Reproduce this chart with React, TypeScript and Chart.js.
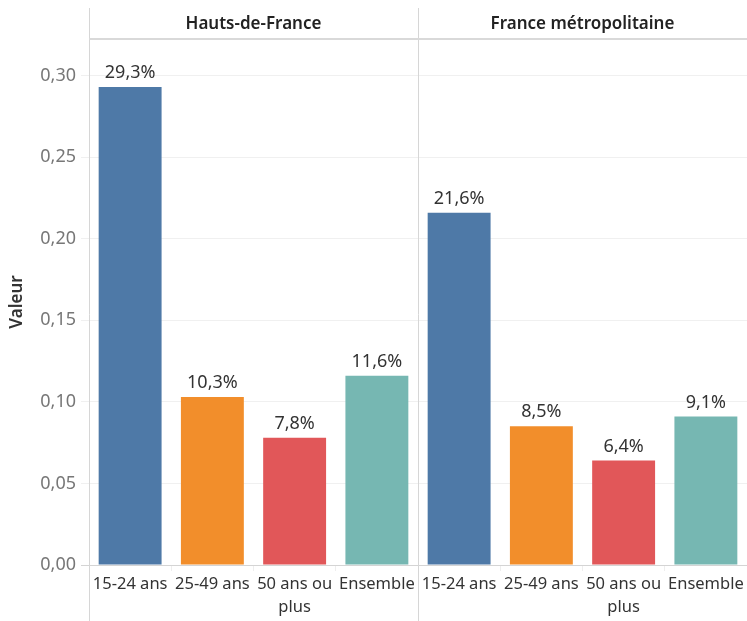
import React, { useEffect, useRef } from "react";
import { Chart, registerables } from "chart.js";

Chart.register(...registerables);

const panels = ["Hauts-de-France", "France métropolitaine"];
const groups: (string | string[])[] = ["15-24 ans", "25-49 ans", ["50 ans ou", "plus"], "Ensemble"];
const hautsDeFrance = [0.293, 0.103, 0.078, 0.116];
const franceMetro = [0.216, 0.085, 0.064, 0.091];
const groupColors = ["#4e79a7", "#f28e2b", "#e15759", "#76b7b2"];
const yTicks = [0, 0.05, 0.1, 0.15, 0.2, 0.25, 0.3];
const yMax = 0.3225;
const yTitle = "Valeur";

const FONT = "'Noto Sans', sans-serif";

export default function App() {
  const ref = useRef<HTMLCanvasElement | null>(null);

  useEffect(() => {
    document.body.style.margin = "0";
    const canvas = ref.current;
    if (!canvas) return;

    const labels = [...groups, ...groups];
    const values = [...hautsDeFrance, ...franceMetro];
    const colors = [...groupColors, ...groupColors];

    const decor = {
      id: "decor",
      beforeDatasetsDraw(chart: any) {
        const { ctx, chartArea, scales } = chart;
        const xs = scales.x;
        const sep = (xs.getPixelForValue(3) + xs.getPixelForValue(4)) / 2;
        ctx.save();
        ctx.strokeStyle = "#d6d6d6";
        ctx.lineWidth = 1;
        ctx.beginPath();
        ctx.moveTo(chartArea.left + 0.5, 8);
        ctx.lineTo(chartArea.left + 0.5, chart.height);
        ctx.moveTo(Math.round(sep) + 0.5, 8);
        ctx.lineTo(Math.round(sep) + 0.5, chart.height);
        ctx.stroke();
        ctx.strokeStyle = "#d9d9d9";
        ctx.lineWidth = 2;
        ctx.beginPath();
        ctx.moveTo(chartArea.left, chartArea.top);
        ctx.lineTo(chart.width, chartArea.top);
        ctx.stroke();

        // headers
        ctx.fillStyle = "#222";
        ctx.font = `600 17px ${FONT}`;
        ctx.textAlign = "center";
        ctx.textBaseline = "middle";
        ctx.fillText(panels[0], (chartArea.left + sep) / 2, 24);
        ctx.fillText(panels[1], (sep + chart.width) / 2, 24);

        // y title
        ctx.translate(17, (chartArea.top + chartArea.bottom) / 2);
        ctx.rotate(-Math.PI / 2);
        ctx.fillStyle = "#333";
        ctx.font = `600 17px ${FONT}`;
        ctx.fillText(yTitle, 0, 0);
        ctx.restore();
      },
      afterDatasetsDraw(chart: any) {
        const { ctx } = chart;
        const meta = chart.getDatasetMeta(0);
        ctx.save();
        ctx.fillStyle = "#333";
        ctx.font = `18px ${FONT}`;
        ctx.textAlign = "center";
        ctx.textBaseline = "bottom";
        meta.data.forEach((bar: any, i: number) => {
          const v = values[i];
          const txt = (v * 100).toFixed(1).replace(".", ",") + "%";
          ctx.fillText(txt, bar.x, bar.y - 5);
        });
        ctx.restore();
      },
    };

    const chart = new Chart(canvas, {
      type: "bar",
      data: {
        labels,
        datasets: [
          {
            data: values,
            backgroundColor: colors,
            borderWidth: 0,
            categoryPercentage: 1,
            barPercentage: 0.765,
          },
        ],
      },
      options: {
        animation: false,
        responsive: false,
        layout: { padding: { top: 39, left: 0, right: 0, bottom: 0 } },
        plugins: { legend: { display: false }, tooltip: { enabled: false }, title: { display: false } },
        scales: {
          x: {
            offset: true,
            grid: {
              offset: true,
              drawOnChartArea: false,
              drawTicks: true,
              tickLength: 6,
              color: "#eeeeee",
            },
            border: { display: false },
            ticks: {
              color: "#333",
              font: { family: FONT, size: 16.5, lineHeight: 1.4 },
              padding: 2,
              maxRotation: 0,
              autoSkip: false,
            },
            afterFit(scale: any) {
              scale.height = 56;
            },
          },
          y: {
            min: 0,
            max: yMax,
            border: { display: false },
            afterBuildTicks(scale: any) {
              scale.ticks = yTicks.map((v) => ({ value: v }));
            },
            grid: {
              color: (c: any) => (c.tick && c.tick.value === 0 ? "#d4d4d4" : "#f0f0f0"),
              tickLength: 8,
              lineWidth: 1,
            },
            ticks: {
              color: "#777",
              font: { family: FONT, size: 18 },
              padding: 5,
              callback: (v: any) => Number(v).toFixed(2).replace(".", ","),
            },
            afterFit(scale: any) {
              scale.width = 89;
            },
          },
        },
      },
      plugins: [decor],
    });

    return () => chart.destroy();
  }, []);

  return (
    <div style={{ width: 747, height: 621 }}>
      <canvas ref={ref} width={747} height={621} />
    </div>
  );
}
